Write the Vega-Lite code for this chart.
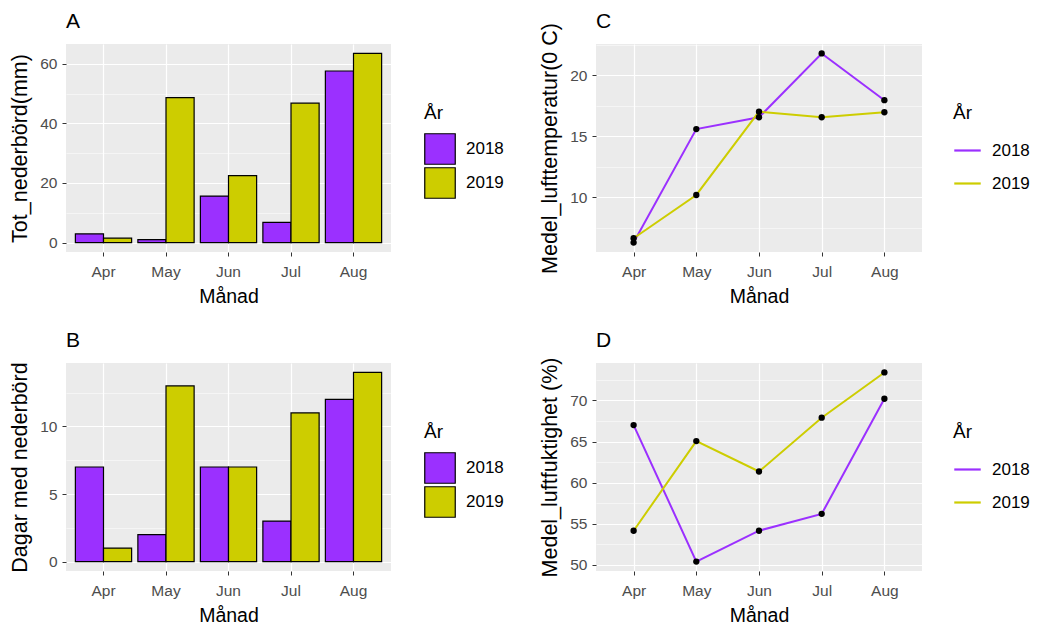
{
  "$schema": "https://vega.github.io/schema/vega-lite/v6.json",
  "background": "white",
  "padding": {"left": 9, "top": 11, "right": 0, "bottom": 0},
  "data": {"values": [
    {"Månad": "Apr", "År": "2018", "nederbord": 2.9, "dagar": 7, "temp": 6.3, "fukt": 67.0},
    {"Månad": "Apr", "År": "2019", "nederbord": 1.5, "dagar": 1, "temp": 6.65, "fukt": 54.15},
    {"Månad": "May", "År": "2018", "nederbord": 1.0, "dagar": 2, "temp": 15.6, "fukt": 50.4},
    {"Månad": "May", "År": "2019", "nederbord": 48.7, "dagar": 13, "temp": 10.2, "fukt": 65.05},
    {"Månad": "Jun", "År": "2018", "nederbord": 15.6, "dagar": 7, "temp": 16.57, "fukt": 54.15},
    {"Månad": "Jun", "År": "2019", "nederbord": 22.5, "dagar": 7, "temp": 17.03, "fukt": 61.35},
    {"Månad": "Jul", "År": "2018", "nederbord": 6.8, "dagar": 3, "temp": 21.8, "fukt": 56.2},
    {"Månad": "Jul", "År": "2019", "nederbord": 46.8, "dagar": 11, "temp": 16.57, "fukt": 67.9},
    {"Månad": "Aug", "År": "2018", "nederbord": 57.6, "dagar": 12, "temp": 17.97, "fukt": 70.2},
    {"Månad": "Aug", "År": "2019", "nederbord": 63.5, "dagar": 14, "temp": 16.98, "fukt": 73.4}
  ]},
  "config": {
    "font": "Liberation Sans",
    "view": {"fill": "#EBEBEB", "stroke": null},
    "axis": {
      "labelFont": "Liberation Sans", "labelFontSize": 15.5, "labelColor": "#4D4D4D",
      "titleFont": "Liberation Sans", "titleFontSize": 19.5, "titleFontWeight": "normal", "titleColor": "black",
      "tickColor": "#333333", "tickSize": 4, "tickWidth": 1, "domain": false,
      "gridColor": "white", "gridWidth": 1.2
    },
    "axisX": {"labelPadding": 8, "titlePadding": 8},
    "axisY": {"labelPadding": 5, "titlePadding": 8, "titleFontSize": 21.5},
    "axisBand": {"bandPosition": 0.5},
    "legend": {
      "titleFont": "Liberation Sans", "titleFontSize": 19, "titleFontWeight": "normal", "titleColor": "black",
      "labelFont": "Liberation Sans", "labelFontSize": 17, "labelColor": "black",
      "padding": 0, "titlePadding": 10, "labelOffset": 10, "offset": 33
    },
    "title": {"font": "Liberation Sans", "fontSize": 21, "fontWeight": "normal", "anchor": "start", "frame": "group", "offset": 12, "color": "black"}
  },
  "spacing": 23,
  "resolve": {"scale": {"color": "independent", "fill": "independent", "x": "independent", "y": "independent"}, "legend": {"color": "independent", "fill": "independent"}},
  "vconcat": [
    {"spacing": 35,
     "resolve": {"scale": {"color": "independent", "fill": "independent", "x": "independent", "y": "independent"}, "legend": {"color": "independent", "fill": "independent"}},
     "hconcat": [
      {
        "width": 325, "height": 208,
        "title": {"text": "A", "offset": 12},
        "resolve": {"axis": {"y": "independent"}},
        "layer": [
          {"mark": {"type": "bar", "stroke": "black", "strokeWidth": 1.2},
           "encoding": {
             "x": {"field": "Månad", "type": "nominal", "sort": ["Apr", "May", "Jun", "Jul", "Aug"],
                   "scale": {"paddingInner": 0.1, "paddingOuter": 0.15},
                   "axis": {"title": "Månad", "labelAngle": 0, "grid": true}},
             "xOffset": {"field": "År", "type": "nominal"},
             "y": {"field": "nederbord", "type": "quantitative", "scale": {"domain": [-3.175, 66.675], "nice": false, "zero": false},
                   "axis": {"orient": "left", "values": [0, 20, 40, 60], "grid": true, "title": "Tot_nederbörd(mm)"}},
             "fill": {"field": "År", "type": "nominal", "scale": {"domain": ["2018", "2019"], "range": ["#9B30FF", "#CDCD00"]},
                      "legend": {"title": "År", "orient": "none", "legendX": 358, "legendY": 60, "symbolType": "square", "symbolSize": 930, "symbolStrokeColor": "black", "symbolStrokeWidth": 1.2, "rowPadding": -2}}
           }},
          {"mark": {"type": "point", "opacity": 0, "size": 1},
           "encoding": {
             "x": {"field": "Månad", "type": "nominal", "sort": ["Apr", "May", "Jun", "Jul", "Aug"]},
             "y": {"field": "nederbord", "type": "quantitative",
                   "axis": {"orient": "left", "values": [10, 30, 50], "grid": true, "gridWidth": 0.5, "labels": false, "ticks": false, "title": null}}
           }}
        ]
      },
      {
        "width": 326, "height": 208,
        "title": {"text": "C", "offset": -9.5},
        "resolve": {"axis": {"y": "independent"}},
        "layer": [
          {"mark": {"type": "line", "strokeWidth": 2},
           "encoding": {
             "x": {"field": "Månad", "type": "ordinal", "sort": ["Apr", "May", "Jun", "Jul", "Aug"], "scale": {"type": "point", "padding": 0.6},
                   "axis": {"title": "Månad", "labelAngle": 0, "grid": true}},
             "y": {"field": "temp", "type": "quantitative", "scale": {"domain": [5.525, 22.575], "nice": false, "zero": false},
                   "axis": {"orient": "left", "values": [10, 15, 20], "grid": true, "title": "Medel_lufttemperatur(0 C)"}},
             "color": {"field": "År", "type": "nominal", "scale": {"domain": ["2018", "2019"], "range": ["#9B30FF", "#CDCD00"]},
                       "legend": {"title": "År", "orient": "none", "legendX": 357, "legendY": 60, "symbolType": "stroke", "symbolSize": 700, "symbolStrokeWidth": 2.2, "rowPadding": 10, "titlePadding": 13}}
           }},
          {"mark": {"type": "circle", "color": "black", "opacity": 1, "size": 40},
           "encoding": {
             "x": {"field": "Månad", "type": "ordinal", "sort": ["Apr", "May", "Jun", "Jul", "Aug"]},
             "y": {"field": "temp", "type": "quantitative",
                   "axis": {"orient": "left", "values": [7.5, 12.5, 17.5, 22.5], "grid": true, "gridWidth": 0.5, "labels": false, "ticks": false, "title": null}}
           }}
        ]
      }
    ]},
    {"spacing": 35,
     "resolve": {"scale": {"color": "independent", "fill": "independent", "x": "independent", "y": "independent"}, "legend": {"color": "independent", "fill": "independent"}},
     "hconcat": [
      {
        "width": 325, "height": 208,
        "title": {"text": "B", "offset": 11},
        "resolve": {"axis": {"y": "independent"}},
        "layer": [
          {"mark": {"type": "bar", "stroke": "black", "strokeWidth": 1.2},
           "encoding": {
             "x": {"field": "Månad", "type": "nominal", "sort": ["Apr", "May", "Jun", "Jul", "Aug"],
                   "scale": {"paddingInner": 0.1, "paddingOuter": 0.15},
                   "axis": {"title": "Månad", "labelAngle": 0, "grid": true}},
             "xOffset": {"field": "År", "type": "nominal"},
             "y": {"field": "dagar", "type": "quantitative", "scale": {"domain": [-0.7, 14.7], "nice": false, "zero": false},
                   "axis": {"orient": "left", "values": [0, 5, 10], "grid": true, "title": "Dagar med nederbörd"}},
             "fill": {"field": "År", "type": "nominal", "scale": {"domain": ["2018", "2019"], "range": ["#9B30FF", "#CDCD00"]},
                      "legend": {"title": "År", "orient": "none", "legendX": 358, "legendY": 60, "symbolType": "square", "symbolSize": 930, "symbolStrokeColor": "black", "symbolStrokeWidth": 1.2, "rowPadding": -2}}
           }},
          {"mark": {"type": "point", "opacity": 0, "size": 1},
           "encoding": {
             "x": {"field": "Månad", "type": "nominal", "sort": ["Apr", "May", "Jun", "Jul", "Aug"]},
             "y": {"field": "dagar", "type": "quantitative",
                   "axis": {"orient": "left", "values": [2.5, 7.5, 12.5], "grid": true, "gridWidth": 0.5, "labels": false, "ticks": false, "title": null}}
           }}
        ]
      },
      {
        "width": 326, "height": 208,
        "title": {"text": "D", "offset": 6},
        "resolve": {"axis": {"y": "independent"}},
        "layer": [
          {"mark": {"type": "line", "strokeWidth": 2},
           "encoding": {
             "x": {"field": "Månad", "type": "ordinal", "sort": ["Apr", "May", "Jun", "Jul", "Aug"], "scale": {"type": "point", "padding": 0.6},
                   "axis": {"title": "Månad", "labelAngle": 0, "grid": true}},
             "y": {"field": "fukt", "type": "quantitative", "scale": {"domain": [49.25, 74.55], "nice": false, "zero": false},
                   "axis": {"orient": "left", "values": [50, 55, 60, 65, 70], "grid": true, "title": "Medel_luftfuktighet (%)"}},
             "color": {"field": "År", "type": "nominal", "scale": {"domain": ["2018", "2019"], "range": ["#9B30FF", "#CDCD00"]},
                       "legend": {"title": "År", "orient": "none", "legendX": 357, "legendY": 60, "symbolType": "stroke", "symbolSize": 700, "symbolStrokeWidth": 2.2, "rowPadding": 10, "titlePadding": 13}}
           }},
          {"mark": {"type": "circle", "color": "black", "opacity": 1, "size": 40},
           "encoding": {
             "x": {"field": "Månad", "type": "ordinal", "sort": ["Apr", "May", "Jun", "Jul", "Aug"]},
             "y": {"field": "fukt", "type": "quantitative",
                   "axis": {"orient": "left", "values": [52.5, 57.5, 62.5, 67.5, 72.5], "grid": true, "gridWidth": 0.5, "labels": false, "ticks": false, "title": null}}
           }}
        ]
      }
    ]}
  ]
}
